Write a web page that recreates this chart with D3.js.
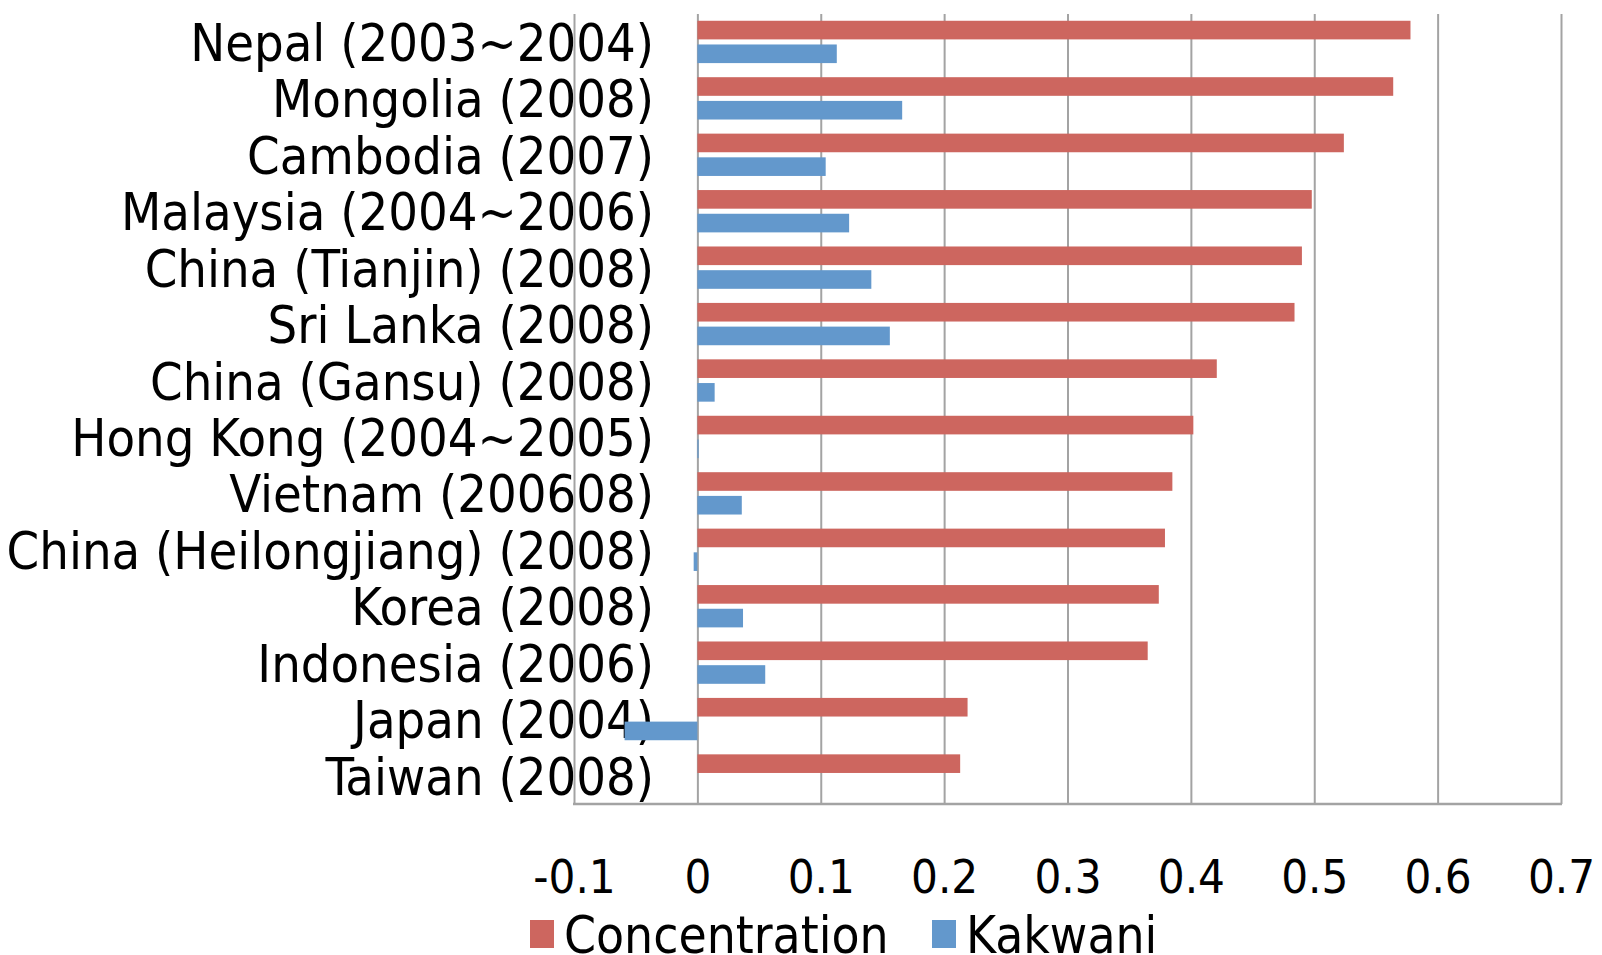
<!DOCTYPE html>
<html>
<head>
<meta charset="utf-8">
<script src="https://cdn.jsdelivr.net/npm/d3@7"></script>
<style>
  html, body { margin: 0; padding: 0; background: #fff; overflow: hidden; }
  svg { display: block; }
  text { font-family: "DejaVu Sans Condensed", "DejaVu Sans", sans-serif; font-stretch: condensed; fill: #000; }
</style>
</head>
<body>
<svg id="chart" width="1602" height="955"></svg>
<script>
const categories = [
  "Nepal (2003~2004)",
  "Mongolia (2008)",
  "Cambodia (2007)",
  "Malaysia (2004~2006)",
  "China (Tianjin) (2008)",
  "Sri Lanka (2008)",
  "China (Gansu) (2008)",
  "Hong Kong (2004~2005)",
  "Vietnam (200608)",
  "China (Heilongjiang) (2008)",
  "Korea (2008)",
  "Indonesia (2006)",
  "Japan (2004)",
  "Taiwan (2008)"
];
const concentration = [0.578, 0.564, 0.524, 0.498, 0.490, 0.484, 0.421, 0.402, 0.385, 0.379, 0.374, 0.365, 0.219, 0.213];
const kakwani = [0.113, 0.166, 0.104, 0.123, 0.141, 0.156, 0.014, 0.001, 0.036, -0.003, 0.037, 0.055, -0.059, 0.0];
const tickValues = [-0.1, 0, 0.1, 0.2, 0.3, 0.4, 0.5, 0.6, 0.7];
const tickLabels = ["-0.1", "0", "0.1", "0.2", "0.3", "0.4", "0.5", "0.6", "0.7"];
const seriesNames = ["Concentration", "Kakwani"];
const seriesColors = ["#cd665f", "#6398cc"];

const svg = d3.select("#chart");
const plot = { left: 574, right: 1561, top: 14, bottom: 804 };

const x = d3.scaleLinear().domain([-0.1, 0.7]).range([plot.left, plot.right]);
const y = d3.scaleBand().domain(categories).range([plot.top, plot.bottom]).padding(0);
const bw = y.bandwidth();

// Category labels (drawn beneath grid and bars)
const yAxis = svg.append("g")
  .attr("transform", "translate(654,0)")
  .call(d3.axisLeft(y).tickSize(0).tickPadding(0));
yAxis.select(".domain").remove();
yAxis.selectAll("text")
  .attr("font-size", 52)
  .attr("dy", "0.36em")
  .style("font-family", '"DejaVu Sans Condensed", "DejaVu Sans", sans-serif');

// Gridlines
const grid = svg.append("g")
  .attr("transform", `translate(0,${plot.top})`)
  .call(d3.axisBottom(x).tickValues(tickValues).tickSize(plot.bottom - plot.top).tickFormat(""));
grid.select(".domain").remove();
grid.selectAll("line").attr("stroke", "#a3a3a3").attr("stroke-width", 2);

// bottom axis line
svg.append("line")
  .attr("x1", x(-0.1) - 1).attr("x2", x(0.7) + 1)
  .attr("y1", plot.bottom).attr("y2", plot.bottom)
  .attr("stroke", "#a3a3a3").attr("stroke-width", 2.5);

// Bars
const rows = categories.map((c, i) => ({ c, conc: concentration[i], kak: kakwani[i] }));
svg.append("g").selectAll("rect").data(rows).join("rect")
  .attr("x", d => Math.min(x(0), x(d.conc)))
  .attr("width", d => Math.abs(x(d.conc) - x(0)))
  .attr("y", d => y(d.c) + bw * 0.12)
  .attr("height", bw * 0.33)
  .attr("fill", seriesColors[0]);
svg.append("g").selectAll("rect").data(rows).join("rect")
  .attr("x", d => Math.min(x(0), x(d.kak)))
  .attr("width", d => Math.abs(x(d.kak) - x(0)))
  .attr("y", d => y(d.c) + bw * 0.54)
  .attr("height", bw * 0.33)
  .attr("fill", seriesColors[1]);

// X tick labels
const xAxis = svg.append("g")
  .attr("transform", "translate(0,860)")
  .call(d3.axisBottom(x).tickValues(tickValues).tickSize(0).tickPadding(0)
    .tickFormat((d, i) => tickLabels[i]));
xAxis.select(".domain").remove();
xAxis.selectAll("text")
  .attr("font-size", 47)
  .style("font-family", '"DejaVu Sans Condensed", "DejaVu Sans", sans-serif');

// Legend
const legend = [
  { name: seriesNames[0], color: seriesColors[0], x: 530 },
  { name: seriesNames[1], color: seriesColors[1], x: 932 }
];
const lg = svg.append("g").selectAll("g").data(legend).join("g")
  .attr("transform", d => `translate(${d.x},0)`);
lg.append("rect").attr("x", 0).attr("y", 920).attr("width", 24).attr("height", 28)
  .attr("fill", d => d.color);
lg.append("text").attr("x", 34).attr("y", 953).attr("font-size", 51)
  .text(d => d.name);
</script>
</body>
</html>
